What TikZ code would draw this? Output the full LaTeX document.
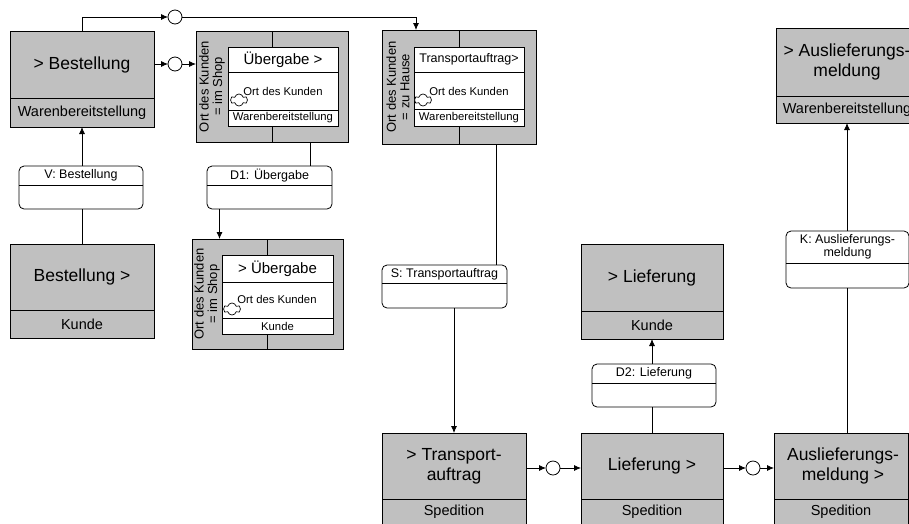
\documentclass[tikz,border=0pt]{standalone}
\usepackage{fontspec}
\setmainfont{Liberation Sans}
\usetikzlibrary{arrows.meta, positioning, shapes.symbols}
\definecolor{boxgray}{HTML}{C0C0C0}

\begin{document}
\begin{tikzpicture}[
      x=1pt, y=-1pt,
      func/.style={draw, fill=boxgray, line width=0.8pt, anchor=north west, inner sep=0pt, outer sep=0pt},
      msg/.style={draw, fill=white, rounded corners=5pt, line width=0.8pt, anchor=north west, inner sep=0pt, outer sep=0pt},
      inbox/.style={draw, fill=white, line width=0.8pt, anchor=north west, inner sep=0pt, outer sep=0pt},
      conn/.style={circle, draw, fill=white, line width=0.8pt, minimum size=14pt, inner sep=0pt, outer sep=0pt},
      ort/.style={cloud, cloud puffs=6, aspect=1.5, draw, fill=white, line width=0.7pt, minimum width=17pt, minimum height=12pt, inner sep=0pt},
      flow/.style={-{Latex[length=7pt, width=6pt]}, line width=0.8pt},
      link/.style={line width=0.8pt},
      big/.style={font=\fontsize{17.5}{20}\selectfont, align=center, inner sep=0pt},
      mid/.style={font=\fontsize{14.5}{16}\selectfont, inner sep=0pt},
      lbl/.style={font=\fontsize{12.5}{13}\selectfont, align=center, inner sep=0pt},
      ttl/.style={font=\fontsize{15}{17}\selectfont, inner sep=0pt},
      sml/.style={font=\fontsize{11.3}{13}\selectfont, inner sep=0pt},
      side/.style={font=\fontsize{13}{13.5}\selectfont, rotate=90, align=center, inner sep=0pt}
    ]
    \useasboundingbox (0,0) rectangle (909,523);

    % functions
    \node[func, minimum width=144, minimum height=96] (bestWB) at (10,31) {};
    \draw[link] (10,98) -- (154,98);
    \node[big] (bestWBt) at (82,64.5) {> Bestellung};
    \node[mid] (bestWBr) at (82,112.5) {Warenbereitstellung};

    \node[func, minimum width=144, minimum height=94] (bestK) at (10,244) {};
    \draw[link] (10,310) -- (154,310);
    \node[big] (bestKt) at (82,277) {Bestellung >};
    \node[mid] (bestKr) at (82,324) {Kunde};

    \node[func, minimum width=144, minimum height=100] (trans) at (382,433) {};
    \draw[link] (382,499) -- (526,499);
    \node[big] (transt) at (454,466) {> Transport-\\auftrag};
    \node[mid] (transr) at (454,512) {Spedition};

    \node[func, minimum width=142, minimum height=100] (liefS) at (581,433) {};
    \draw[link] (581,499) -- (723,499);
    \node[big] (liefSt) at (652,466) {Lieferung >};
    \node[mid] (liefSr) at (652,512) {Spedition};

    \node[func, minimum width=142, minimum height=95] (liefK) at (581,244) {};
    \draw[link] (581,311) -- (723,311);
    \node[big] (liefKt) at (652,277.5) {> Lieferung};
    \node[mid] (liefKr) at (652,325) {Kunde};

    \node[func, minimum width=134, minimum height=100] (ausS) at (774,433) {};
    \draw[link] (774,499) -- (908,499);
    \node[big] (ausSt) at (843,466) {Auslieferungs-\\meldung >};
    \node[mid] (ausSr) at (841,512) {Spedition};

    \node[func, minimum width=142, minimum height=95] (ausWB) at (776,28) {};
    \draw[link] (776,96) -- (918,96);
    \node[big] (ausWBt) at (847,62) {> Auslieferungs-\\meldung};
    \node[mid] (ausWBr) at (847,109.5) {Warenbereitstellung};

    % messages
    \node[msg, minimum width=124, minimum height=43] (msgV) at (19,166) {};
    \draw[link] (19,185) -- (143,185);
    \node[lbl] (msgVt) at (81,175.5) {V: Bestellung};

    \node[msg, minimum width=125, minimum height=43] (D1) at (207,166) {};
    \draw[link] (207,185) -- (332,185);
    \node[lbl] (D1t) at (269.5,175.5) {D1: Übergabe};

    \node[msg, minimum width=125, minimum height=43] (S) at (382,265) {};
    \draw[link] (382,283) -- (507,283);
    \node[lbl] (St) at (444.5,274) {S: Transportauftrag};

    \node[msg, minimum width=124, minimum height=43] (D2) at (592,364) {};
    \draw[link] (592,383) -- (716,383);
    \node[lbl] (D2t) at (654,373.5) {D2: Lieferung};

    \node[msg, minimum width=123, minimum height=57] (K) at (786,231) {};
    \draw[link] (786,263) -- (909,263);
    \node[lbl] (Kt) at (847.5,247) {K: Auslieferungs-\\meldung};

    % handovers with place
    \node[func, minimum width=152, minimum height=111] (shop1) at (196,31) {};
    \draw[link] (shop1.north) -- (shop1.south);
    \node[inbox, minimum width=110, minimum height=79] (shop1in) at (228,47) {};
    \draw[link] (228,72) -- (338,72);
    \draw[link] (228,110) -- (338,110);
    \node[ttl] (shop1t) at (283,59.5) {Übergabe >};
    \node[ort] (shop1c) at (239,100) {};
    \node[sml] (shop1o) at (283,91) {Ort des Kunden};
    \node[sml] (shop1r) at (283,118) {Warenbereitstellung};
    \node[side] (shop1s) at (212,86.5) {Ort des Kunden\\= im Shop};

    \node[func, minimum width=151, minimum height=110] (shop2) at (192,239) {};
    \draw[link] (shop2.north) -- (shop2.south);
    \node[inbox, minimum width=111, minimum height=79] (shop2in) at (222,255) {};
    \draw[link] (222,282) -- (333,282);
    \draw[link] (222,318) -- (333,318);
    \node[ttl] (shop2t) at (277.5,268.5) {> Übergabe};
    \node[ort] (shop2c) at (232,309) {};
    \node[sml] (shop2o) at (277,299) {Ort des Kunden};
    \node[sml] (shop2r) at (277.5,326) {Kunde};
    \node[side] (shop2s) at (207,294) {Ort des Kunden\\= im Shop};

    \node[func, minimum width=154, minimum height=114] (zuH) at (382,30) {};
    \draw[link] (zuH.north) -- (zuH.south);
    \node[inbox, minimum width=110, minimum height=79] (zuHin) at (414,47) {};
    \draw[link] (414,72) -- (524,72);
    \draw[link] (414,109) -- (524,109);
    \node[sml, font=\fontsize{12.5}{14}\selectfont] (zuHt) at (469,59.5) {Transportauftrag>};
    \node[ort] (zuHc) at (423,100) {};
    \node[sml] (zuHo) at (469,91) {Ort des Kunden};
    \node[sml] (zuHr) at (469,117.5) {Warenbereitstellung};
    \node[side] (zuHs) at (398,87) {Ort des Kunden\\= zu Hause};

    % connectors
    \node[conn] (c1) at (175,17) {};
    \node[conn] (c2) at (175,64) {};
    \node[conn] (c3) at (553,468) {};
    \node[conn] (c4) at (753,468) {};

    \draw[flow] (bestWB.north) |- (c1);
    \draw[flow] (c1) -| ([xshift=-43]zuH.north);
    \draw[flow] (bestWB.east |- c2) -- (c2);
    \draw[flow] (c2) -- (c2 -| shop1.west);
    \draw[flow] (msgV.north -| bestWB.south) -- (bestWB.south);
    \draw[link] (bestK.north) -- (bestK.north |- msgV.south);
    \draw[link] ([xshift=38]shop1.south) -- ([xshift=38]shop1.south |- D1.north);
    \draw[flow] ([xshift=-50]D1.south) -- ([xshift=-50]D1.south |- shop2.north);
    \draw[link] ([xshift=37]zuH.south) -- ([xshift=37]zuH.south |- S.north);
    \draw[flow] (S.south -| trans.north) -- (trans.north);
    \draw[flow] (trans.east |- c3) -- (c3);
    \draw[flow] (c3) -- (c3 -| liefS.west);
    \draw[link] (liefS.north) -- (liefS.north |- D2.south);
    \draw[flow] (liefS.north |- D2.north) -- (liefK.south);
    \draw[flow] (liefS.east |- c4) -- (c4);
    \draw[flow] (c4) -- (c4 -| ausS.west);
    \draw[link] (ausWB.south |- ausS.north) -- (ausWB.south |- K.south);
    \draw[flow] (ausWB.south |- K.north) -- (ausWB.south);
\end{tikzpicture}
\end{document}
